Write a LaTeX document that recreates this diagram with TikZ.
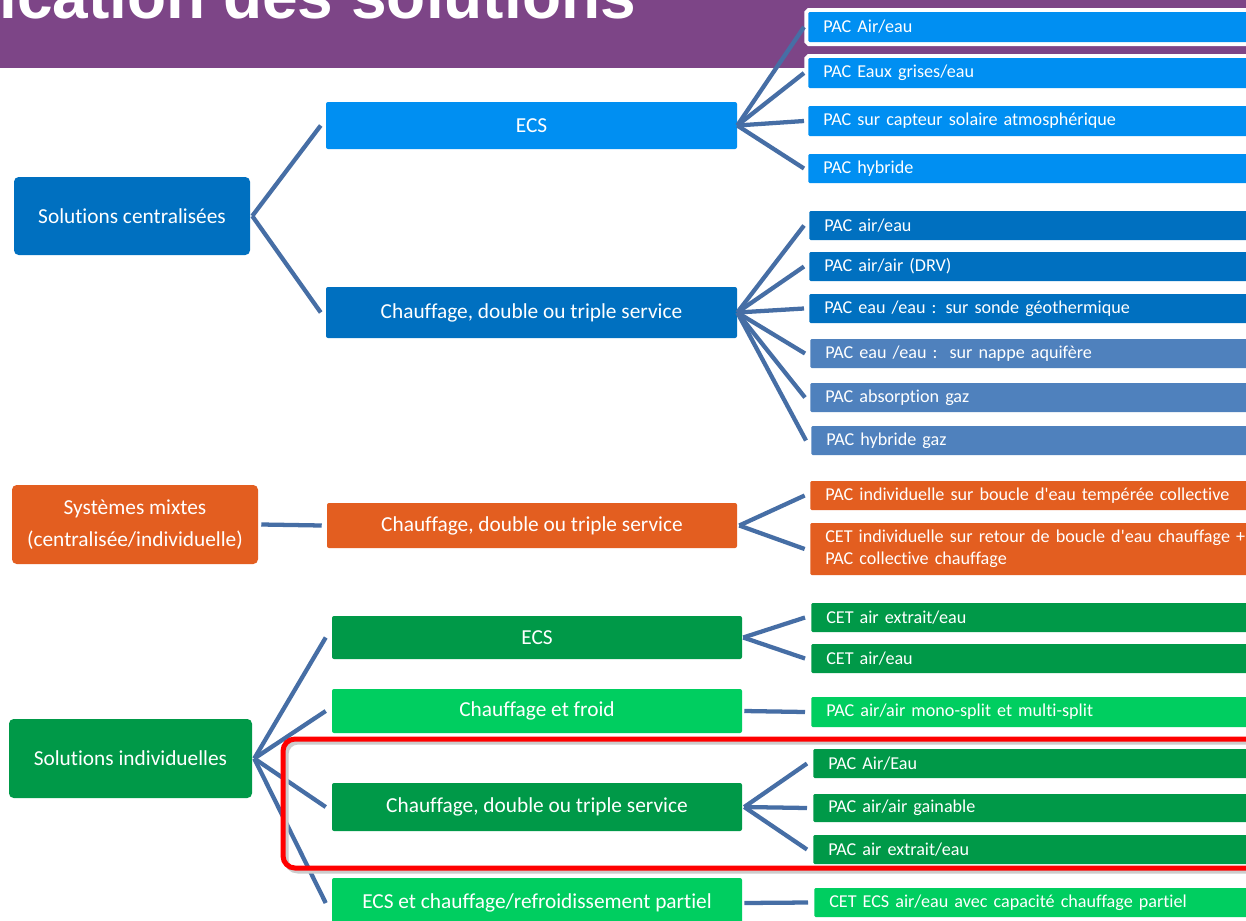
\documentclass[tikz,border=0pt]{standalone}
\usepackage{fontspec}
\setmainfont{Carlito}[Ligatures={TeX,NoCommon}]
\newfontfamily\titlefont{Liberation Sans}
\definecolor{cpurple}{RGB}{125,69,135}
\definecolor{cbright}{RGB}{0,143,242}
\definecolor{cdblue}{RGB}{0,112,192}
\definecolor{csteel}{RGB}{79,129,189}
\definecolor{corange}{RGB}{227,94,32}
\definecolor{cdgreen}{RGB}{0,153,72}
\definecolor{clgreen}{RGB}{0,206,96}
\definecolor{conncol}{RGB}{70,110,165}
\begin{document}
\begin{tikzpicture}[x=0.75pt,y=-0.75pt,
  box/.style={draw=none, text=white, inner sep=0pt, align=center},
  rootbox/.style={box, rounded corners=3.5pt, font=\fontsize{16pt}{24pt}\selectfont},
  midbox/.style={box, rounded corners=1.5pt, minimum width=307.5pt, font=\fontsize{16pt}{19pt}\selectfont},
  leafbox/.style={box, anchor=west, rounded corners=1pt, inner xsep=11.25pt, inner ysep=0pt,
     text width=345pt, align=left, minimum height=22pt,
     preaction={draw=white, line width=6pt, rounded corners=3pt},
     font=\fontsize{13.6pt}{16.5pt}\selectfont},
  conn/.style={draw=conncol, line width=3.2pt},
]
\useasboundingbox (0,0) rectangle (1246,921);
\clip (0,0) rectangle (1246,921);
\fill[white] (0,0) rectangle (1246,921);
% header band
\fill[cpurple] (0,0) rectangle (1246,68);
\node[anchor=base west, inner sep=0pt, text=white,
  font=\titlefont\bfseries\fontsize{48pt}{50pt}\selectfont] (title) at (-1,18) {ication des solutions};

% roots
\node[rootbox, fill=cdblue, minimum width=177pt, minimum height=58.5pt] (rc) at (132,216) {Solutions centralisées};
\node[rootbox, fill=corange, minimum width=184.5pt, minimum height=59.25pt] (rm) at (135,524.5) {Systèmes mixtes\\(centralisée/individuelle)};
\node[rootbox, fill=cdgreen, minimum width=182.25pt, minimum height=59.25pt] (ri) at (130.5,758.5) {Solutions individuelles};

% middle column
\node[midbox, fill=cbright, minimum width=308.25pt, minimum height=35.25pt] (mc1) at (531.5,125.5) {ECS};
\node[midbox, fill=cdblue, minimum width=308.25pt, minimum height=38.25pt] (mc2) at (531.5,312.5) {Chauffage, double ou triple service};
\node[midbox, fill=corange, minimum height=33.75pt] (mm) at (532,525.5) {Chauffage, double ou triple service};
\node[midbox, fill=cdgreen, minimum height=32.25pt] (mi1) at (537,637.5) {ECS};
\node[midbox, fill=clgreen, minimum height=33pt] (mi2) at (537,711) {Chauffage et froid};
\node[midbox, fill=cdgreen, minimum height=36pt] (mi3) at (537,807) {Chauffage, double ou triple service};
\node[midbox, fill=clgreen, minimum height=37.5pt] (mi4) at (537,903) {ECS et chauffage/refroidissement partiel};

% leaves
\node[leafbox, fill=cbright, minimum height=22.5pt] (a1) at (808,27) {PAC Air/eau};
\node[leafbox, fill=cbright, minimum height=22.5pt] (a2) at (808,73) {PAC Eaux grises/eau};
\node[leafbox, fill=cbright, minimum height=22.5pt] (a3) at (808,121) {PAC sur capteur solaire atmosphérique};
\node[leafbox, fill=cbright, minimum height=21.75pt] (a4) at (808,168.5) {PAC hybride};

\node[leafbox, fill=cdblue, minimum height=21.75pt] (b1) at (809,225.5) {PAC air/eau};
\node[leafbox, fill=cdblue, minimum height=21.75pt] (b2) at (809,266.5) {PAC air/air (DRV)};
\node[leafbox, fill=cdblue, minimum height=21.75pt] (b3) at (809,308.5) {PAC eau /eau : sur sonde géothermique};
\node[leafbox, fill=csteel, minimum height=21.75pt] (b4) at (810,353.5) {PAC eau /eau :\ \ sur nappe aquifère};
\node[leafbox, fill=csteel, minimum height=21.75pt] (b5) at (810,397.5) {PAC absorption gaz};
\node[leafbox, fill=csteel, minimum height=21.75pt] (b6) at (811,440.5) {PAC hybride gaz};

\node[leafbox, fill=corange, minimum height=21.75pt] (c1) at (810,495.5) {PAC individuelle sur boucle d\textquotesingle eau tempérée collective};
\node[leafbox, fill=corange, minimum height=39pt] (c2) at (810,549) {CET individuelle sur retour de boucle d\textquotesingle eau chauffage +\\PAC collective chauffage};

\node[leafbox, fill=cdgreen, minimum height=21.75pt] (d1) at (811,617.5) {CET air extrait/eau};
\node[leafbox, fill=cdgreen, minimum height=21.75pt] (d2) at (811,658.5) {CET air/eau};
\node[leafbox, fill=clgreen, minimum height=22.5pt] (e1) at (811,712) {PAC air/air mono-split et multi-split};
\node[leafbox, fill=cdgreen, minimum height=21.75pt] (f1) at (813,763.5) {PAC Air/Eau};
\node[leafbox, fill=cdgreen, minimum height=21pt] (f2) at (813,808) {PAC air/air gainable};
\node[leafbox, fill=cdgreen, minimum height=21.75pt] (f3) at (813,849.5) {PAC air extrait/eau};
\node[leafbox, fill=clgreen, minimum height=21.75pt] (g1) at (814,902.5) {CET ECS air/eau avec capacité chauffage partiel};

% connectors
\foreach \t in {mc1,mc2} \draw[conn] ([xshift=1.5pt]rc.east) -- ([xshift=-3.75pt]\t.west);
\draw[conn] ([xshift=2.25pt]rm.east) -- ([xshift=-3.75pt]mm.west);
\foreach \t in {mi1,mi2,mi3,mi4} \draw[conn] ([xshift=1.5pt]ri.east) -- ([xshift=-4.5pt]\t.west);
\foreach \t in {a1,a2,a3,a4} \draw[conn] (mc1.east) -- ([xshift=-3pt]\t.west);
\foreach \t in {b1,b2,b3,b4,b5,b6} \draw[conn] (mc2.east) -- ([xshift=-3.75pt]\t.west);
\foreach \t in {c1,c2} \draw[conn] ([xshift=1.5pt]mm.east) -- ([xshift=-4pt]\t.west);
\foreach \t in {d1,d2} \draw[conn] ([xshift=0.75pt]mi1.east) -- ([xshift=-4.5pt]\t.west);
\draw[conn] ([xshift=1.5pt]mi2.east) -- ([xshift=-4.5pt]e1.west);
\foreach \t in {f1,f2,f3} \draw[conn] ([xshift=1.5pt]mi3.east) -- ([xshift=-4.5pt]\t.west);
\draw[conn] ([xshift=1.5pt]mi4.east) -- ([xshift=-4.5pt]g1.west);

% highlight frame
\draw[black!20, line width=3.75pt, rounded corners=9pt] (286,742) rectangle (1290,871);
\draw[red, line width=3.75pt, rounded corners=9pt] (283,739) rectangle (1290,868);
\end{tikzpicture}
\end{document}
